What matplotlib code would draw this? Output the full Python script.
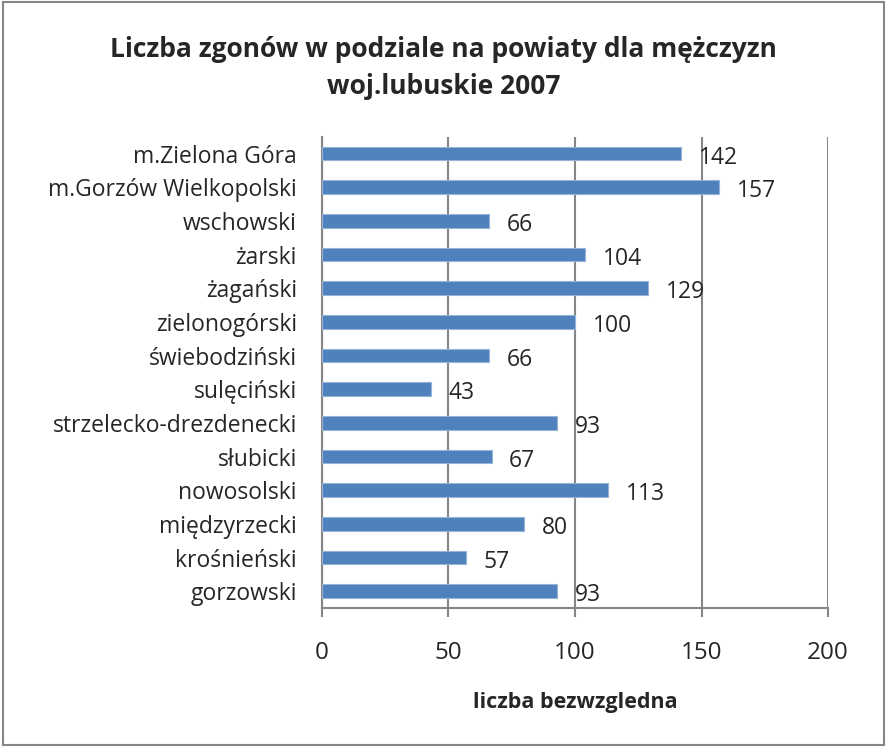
import matplotlib
matplotlib.use("Agg")
import matplotlib.pyplot as plt
from matplotlib.patches import Rectangle

plt.rcParams['font.family'] = ['Open Sans', 'DejaVu Sans']

powiaty = ['m.Zielona Góra', 'm.Gorzów Wielkopolski', 'wschowski', 'żarski',
           'żagański', 'zielonogórski', 'świebodziński', 'sulęciński',
           'strzelecko-drezdenecki', 'słubicki', 'nowosolski', 'międzyrzecki',
           'krośnieński', 'gorzowski']
zgony = [142, 157, 66, 104, 129, 100, 66, 43, 93, 67, 113, 80, 57, 93]
x_ticks = [0, 50, 100, 150, 200]

fig = plt.figure(figsize=(8.87, 7.47), dpi=100)
ax = fig.add_axes([0.363, 0.186, 0.5705, 0.631])

pos = list(range(len(powiaty)))[::-1]
ax.barh(pos, zgony, height=0.4, color='#4F81BD', edgecolor='#95B3D7',
        linewidth=0.8, zorder=3)
for p, v in zip(pos, zgony):
    ax.text(v + 7, p - 0.12, str(v), va='center', ha='left', fontsize=16.5,
            color='#262626')

ax.set_xlim(0, 200)
ax.set_ylim(-0.5, len(powiaty) - 0.5)
ax.set_xticks(x_ticks)
ax.set_xticklabels([str(t) for t in x_ticks], fontsize=17.5, color='#262626')
ax.set_yticks(pos)
ax.set_yticklabels(powiaty, fontsize=16.5, color='#262626')
ax.tick_params(axis='y', length=0, pad=18)
ax.tick_params(axis='x', length=6.5, width=1.5, color='#868686', pad=17,
               direction='out')
ax.xaxis.grid(True, color='#868686', linewidth=1.5, zorder=0)
for s in ['top', 'right']:
    ax.spines[s].set_visible(False)
for s in ['left', 'bottom']:
    ax.spines[s].set_color('#868686')
    ax.spines[s].set_linewidth(1.5)
ax.set_xlabel('liczba bezwzgledna', fontsize=15.5, fontweight='bold',
              color='#262626', labelpad=20)

fig.suptitle('Liczba zgonów w podziale na powiaty dla mężczyzn\nwoj.lubuskie 2007',
             y=0.952, fontsize=19, fontweight='bold', color='#262626',
             linespacing=1.5)

fig.patches.append(Rectangle((0.003, 0.003), 0.994, 0.994,
                             transform=fig.transFigure, fill=False,
                             edgecolor='#868686', linewidth=1.5))

fig.savefig('out.png', dpi=100)
